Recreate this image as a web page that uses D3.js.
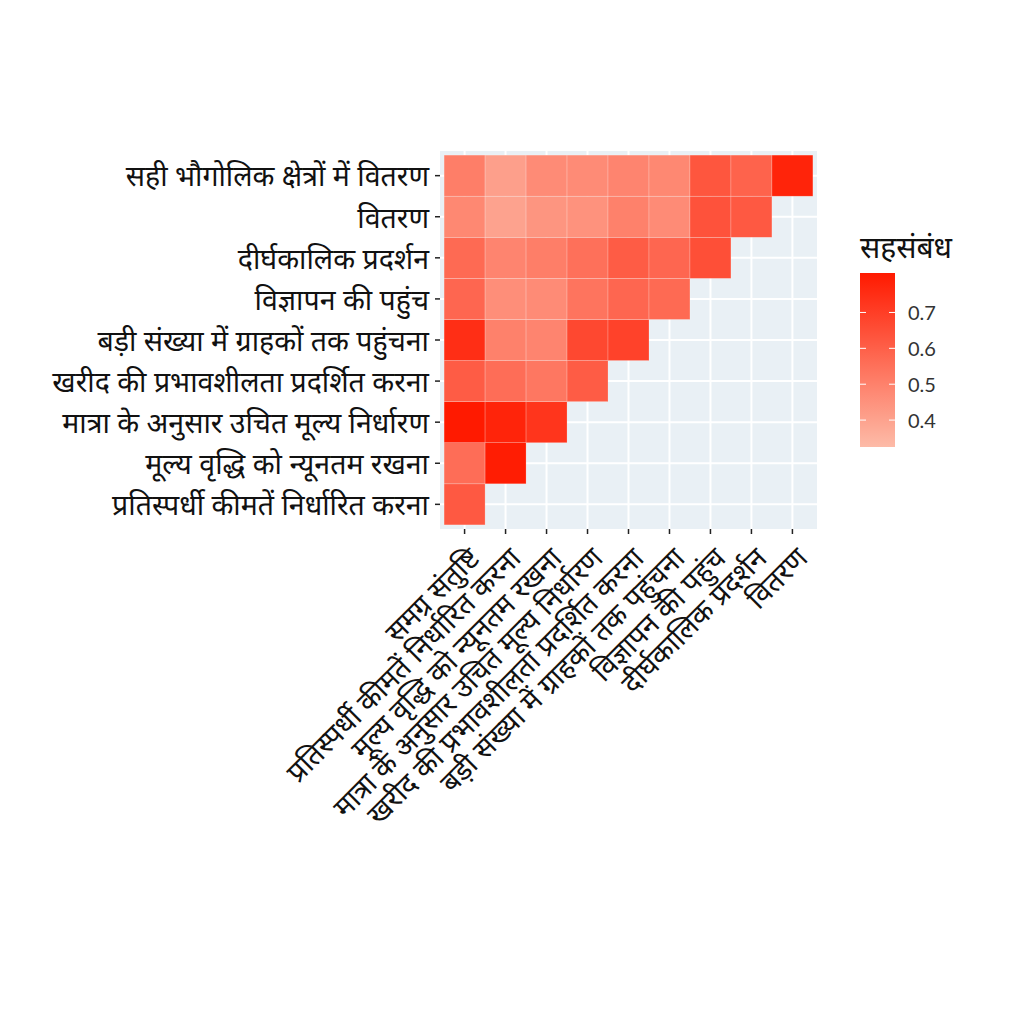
<!DOCTYPE html>
<html>
<head>
<meta charset="utf-8">
<script src="https://cdn.jsdelivr.net/npm/d3@7"></script>
<style>
  html, body { margin: 0; padding: 0; background: #ffffff; }
  svg { display: block; }
  text { font-family: "Noto Sans", "Noto Sans Devanagari", "Lato", sans-serif; }
</style>
</head>
<body>
<svg id="chart" width="1024" height="1024"></svg>
<script>
// ---------- data ----------
const xCategories = [
  "समग्र संतुष्टि",
  "प्रतिस्पर्धी कीमतें निर्धारित करना",
  "मूल्य वृद्धि को न्यूनतम रखना",
  "मात्रा के अनुसार उचित मूल्य निर्धारण",
  "खरीद की प्रभावशीलता प्रदर्शित करना",
  "बड़ी संख्या में ग्राहकों तक पहुंचना",
  "विज्ञापन की पहुंच",
  "दीर्घकालिक प्रदर्शन",
  "वितरण"
];
// bottom to top
const yCategories = [
  "प्रतिस्पर्धी कीमतें निर्धारित करना",
  "मूल्य वृद्धि को न्यूनतम रखना",
  "मात्रा के अनुसार उचित मूल्य निर्धारण",
  "खरीद की प्रभावशीलता प्रदर्शित करना",
  "बड़ी संख्या में ग्राहकों तक पहुंचना",
  "विज्ञापन की पहुंच",
  "दीर्घकालिक प्रदर्शन",
  "वितरण",
  "सही भौगोलिक क्षेत्रों में वितरण"
];
// correlation values per y row, in x-category order
const rowCompetitivePrices   = [0.62];
const rowMinimizePriceRise   = [0.56, 0.80];
const rowFairQuantityPricing = [0.81, 0.78, 0.73];
const rowPurchaseEffect      = [0.61, 0.56, 0.53, 0.61];
const rowReachMany           = [0.75, 0.50, 0.49, 0.67, 0.69];
const rowAdReach             = [0.58, 0.46, 0.47, 0.54, 0.58, 0.57];
const rowLongTerm            = [0.57, 0.49, 0.51, 0.55, 0.61, 0.58, 0.65];
const rowDistribution        = [0.48, 0.40, 0.44, 0.45, 0.50, 0.47, 0.64, 0.62];
const rowGeoDistribution     = [0.51, 0.41, 0.47, 0.47, 0.49, 0.48, 0.63, 0.59, 0.78];

const rowValues = [
  rowCompetitivePrices, rowMinimizePriceRise, rowFairQuantityPricing,
  rowPurchaseEffect, rowReachMany, rowAdReach, rowLongTerm,
  rowDistribution, rowGeoDistribution
];
const legendTicks = [0.4, 0.5, 0.6, 0.7];
const legendTitle = "सहसंबंध";
const colorDomain = [0.325, 0.81];

// ---------- build cells ----------
const cells = [];
rowValues.forEach((vals, ri) => {
  vals.forEach((v, ci) => {
    cells.push({ x: xCategories[ci], y: yCategories[ri], value: v });
  });
});

// ---------- layout ----------
const svg = d3.select("#chart");
const panel = { left: 440, right: 817, top: 151, bottom: 529 };
const stepX = (panel.right - panel.left) / (xCategories.length + 0.2);
const stepY = (panel.bottom - panel.top) / (yCategories.length + 0.2);

const x = d3.scaleBand()
  .domain(xCategories)
  .range([panel.left + 0.1 * stepX, panel.right - 0.1 * stepX])
  .padding(0);
const y = d3.scaleBand()
  .domain(yCategories)
  .range([panel.bottom - 0.1 * stepY, panel.top + 0.1 * stepY])
  .padding(0);

const color = d3.scaleLinear()
  .domain(colorDomain)
  .range(["#fdbba8", "#ff1a00"])
  .interpolate(d3.interpolateRgb)
  .clamp(true);

// panel background
svg.append("rect")
  .attr("x", panel.left).attr("y", panel.top)
  .attr("width", panel.right - panel.left)
  .attr("height", panel.bottom - panel.top)
  .attr("fill", "#e9f0f5");

// grid lines
const grid = svg.append("g");
grid.selectAll("line.vx").data(xCategories).join("line")
  .attr("x1", d => x(d) + x.bandwidth() / 2)
  .attr("x2", d => x(d) + x.bandwidth() / 2)
  .attr("y1", panel.top).attr("y2", panel.bottom)
  .attr("stroke", "#ffffff").attr("stroke-width", 2);
grid.selectAll("line.hy").data(yCategories).join("line")
  .attr("y1", d => y(d) + y.bandwidth() / 2)
  .attr("y2", d => y(d) + y.bandwidth() / 2)
  .attr("x1", panel.left).attr("x2", panel.right)
  .attr("stroke", "#ffffff").attr("stroke-width", 2);

// tiles
svg.append("g").selectAll("rect").data(cells).join("rect")
  .attr("x", d => x(d.x))
  .attr("y", d => y(d.y))
  .attr("width", x.bandwidth())
  .attr("height", y.bandwidth())
  .attr("fill", d => color(d.value))
  .attr("stroke", "rgba(255,255,255,0.35)")
  .attr("stroke-width", 0.6);

// y axis
const yAxis = d3.axisLeft(y).tickSize(5).tickPadding(6);
const gy = svg.append("g").attr("transform", `translate(${panel.left},0)`).call(yAxis);
gy.select(".domain").remove();
gy.selectAll(".tick line").attr("stroke", "#222").attr("stroke-width", 1.5);
gy.selectAll(".tick text")
  .attr("fill", "#111")
  .attr("dy", "0.38em")
  .style("font-size", "28.5px");

// x axis
const xAxis = d3.axisBottom(x).tickSize(5).tickPadding(0);
const gx = svg.append("g").attr("transform", `translate(0,${panel.bottom})`).call(xAxis);
gx.select(".domain").remove();
gx.selectAll(".tick line").attr("stroke", "#222").attr("stroke-width", 1.5);
gx.selectAll(".tick text")
  .attr("fill", "#111")
  .style("font-size", "28.5px")
  .attr("text-anchor", "end")
  .attr("dominant-baseline", "hanging")
  .attr("dy", null)
  .attr("y", 0)
  .attr("transform", "translate(0,14) rotate(-45)");

// legend
const legend = svg.append("g");
const lg = { x: 860, top: 273, bottom: 447, width: 35 };
const ly = d3.scaleLinear().domain(colorDomain).range([lg.bottom, lg.top]);

const defs = svg.append("defs");
const grad = defs.append("linearGradient")
  .attr("id", "legendGrad")
  .attr("x1", "0").attr("y1", "1").attr("x2", "0").attr("y2", "0");
d3.range(0, 1.0001, 0.1).forEach(t => {
  grad.append("stop")
    .attr("offset", t)
    .attr("stop-color", color(colorDomain[0] + t * (colorDomain[1] - colorDomain[0])));
});

legend.append("text")
  .attr("x", lg.x).attr("y", 258)
  .attr("fill", "#111")
  .style("font-size", "30px")
  .text(legendTitle);

legend.append("rect")
  .attr("x", lg.x).attr("y", lg.top)
  .attr("width", lg.width).attr("height", lg.bottom - lg.top)
  .attr("fill", "url(#legendGrad)");

legend.selectAll("line.tl").data(legendTicks).join("line")
  .attr("x1", lg.x).attr("x2", lg.x + 6)
  .attr("y1", d => ly(d)).attr("y2", d => ly(d))
  .attr("stroke", "#ffffff").attr("stroke-width", 1);
legend.selectAll("line.tr").data(legendTicks).join("line")
  .attr("x1", lg.x + lg.width - 6).attr("x2", lg.x + lg.width)
  .attr("y1", d => ly(d)).attr("y2", d => ly(d))
  .attr("stroke", "#ffffff").attr("stroke-width", 1);

legend.selectAll("text.lab").data(legendTicks).join("text")
  .attr("x", lg.x + lg.width + 13)
  .attr("y", d => ly(d))
  .attr("dominant-baseline", "central")
  .attr("fill", "#333")
  .style("font-size", "20px")
  .style("font-family", "Lato, 'Noto Sans', sans-serif")
  .text(d => d.toFixed(1));
</script>
</body>
</html>
